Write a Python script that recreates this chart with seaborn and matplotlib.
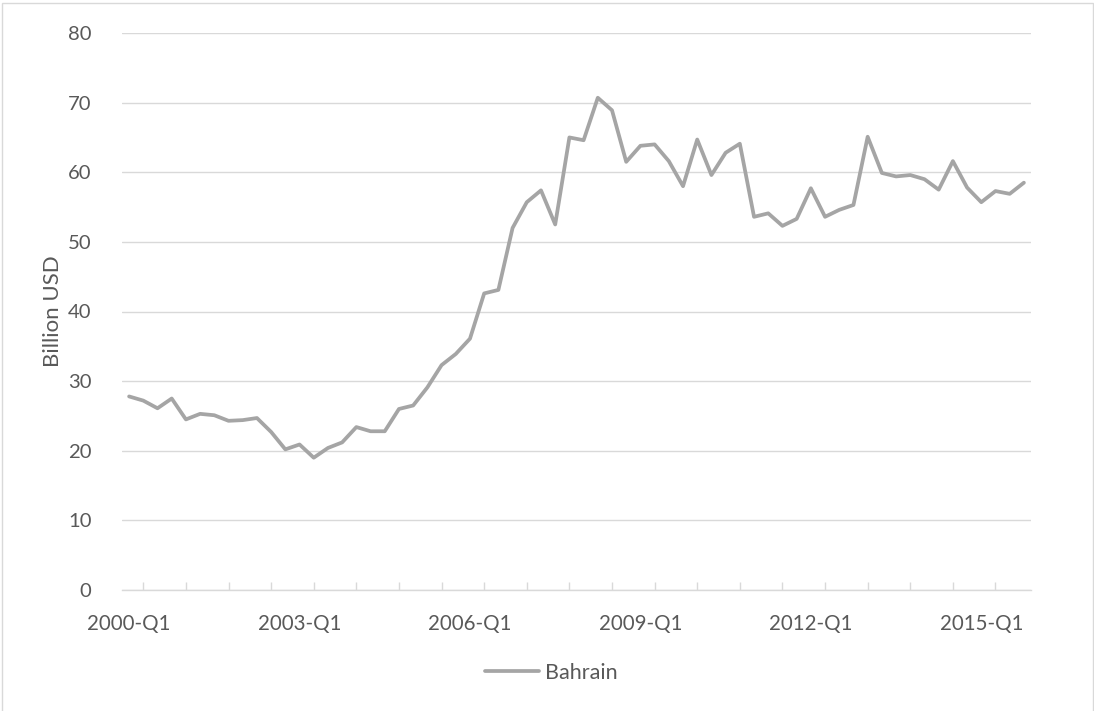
import matplotlib
matplotlib.use("Agg")
import matplotlib.pyplot as plt
import matplotlib.patches as mpatches
import seaborn as sns
import pandas as pd

# Bahrain, quarterly, billion USD (2000-Q1 .. 2015-Q4)
start_year = 2000
values = [27.8, 27.2, 26.1, 27.5, 24.5, 25.3, 25.1, 24.3, 24.4, 24.7,
          22.7, 20.2, 20.9, 19.0, 20.4, 21.2, 23.4, 22.8, 22.8, 26.0,
          26.5, 29.1, 32.3, 33.9, 36.1, 42.6, 43.1, 52.0, 55.7, 57.4,
          52.5, 65.0, 64.6, 70.7, 68.9, 61.5, 63.8, 64.0, 61.6, 58.0,
          64.7, 59.6, 62.8, 64.1, 53.6, 54.1, 52.3, 53.3, 57.7, 53.6,
          54.6, 55.3, 65.1, 59.9, 59.4, 59.6, 59.0, 57.5, 61.6, 57.8,
          55.7, 57.3, 56.9, 58.5]
quarters = [f"{start_year + i // 4}-Q{i % 4 + 1}" for i in range(len(values))]
label_every = 12

df = pd.DataFrame({"idx": range(len(values)), "quarter": quarters, "value": values})

sns.set_theme(style="white")
plt.rcParams["font.family"] = ["Lato", "DejaVu Sans"]
TXT = "#595959"
GRID = "#D9D9D9"
LINE = "#A5A5A5"

fig = plt.figure(figsize=(10.94, 7.11), dpi=100)
ax = fig.add_axes([122 / 1094, 1 - 590 / 711, 909 / 1094, 557 / 711])

sns.lineplot(data=df, x="idx", y="value", color=LINE, linewidth=2.7,
             label="Bahrain", ax=ax, legend=False)

n = len(values)
ax.set_xlim(-0.5, n - 0.5)
ax.set_ylim(0, 80)
ax.set_yticks(range(0, 81, 10))
ax.yaxis.grid(True, color=GRID, linewidth=1.0)
ax.set_axisbelow(True)

for s in ["top", "right", "left"]:
    ax.spines[s].set_visible(False)
ax.spines["bottom"].set_color(GRID)
ax.spines["bottom"].set_linewidth(1.0)

# labelled positions (no tick mark), outer ticks every 3 quarters on the minor axis
lab_pos = list(range(0, n, label_every))
ax.set_xticks(lab_pos)
ax.set_xticklabels([quarters[i] for i in lab_pos])
ax.set_xticks([p - 0.5 for p in range(0, n, 3)], minor=True)
ax.tick_params(axis="x", which="major", length=0, pad=17, labelsize=14.8, labelcolor=TXT)
ax.tick_params(axis="x", which="minor", direction="out", length=6, width=1, color=GRID)
ax.tick_params(axis="y", length=0, pad=22, labelsize=14.6, labelcolor=TXT)

# inner ticks halfway between the outer ones
sec = ax.secondary_xaxis(0)
sec.set_xticks([p + 1 for p in range(0, n - 1, 3)])
sec.tick_params(direction="in", length=6, width=1, color=GRID, labelbottom=False)
sec.spines["bottom"].set_visible(False)

ax.set_xlabel("")
ax.set_ylabel("Billion USD", fontsize=16, color=TXT, va="center")
ax.yaxis.set_label_coords(-0.076, 0.5)

handle = plt.Line2D([], [], color=LINE, linewidth=2.7)
fig.legend([handle], ["Bahrain"], loc="center", bbox_to_anchor=(551 / 1094, 1 - 673 / 711),
           frameon=False, fontsize=15.5, labelcolor=TXT, handlelength=2.5, handletextpad=0.28)

fig.add_artist(mpatches.Rectangle((1.5 / 1094, -0.01), 1091 / 1094, 1.01 - 2.5 / 711,
                                  transform=fig.transFigure, fill=False,
                                  edgecolor=GRID, linewidth=1.0))

fig.savefig("out.png", dpi=100)
